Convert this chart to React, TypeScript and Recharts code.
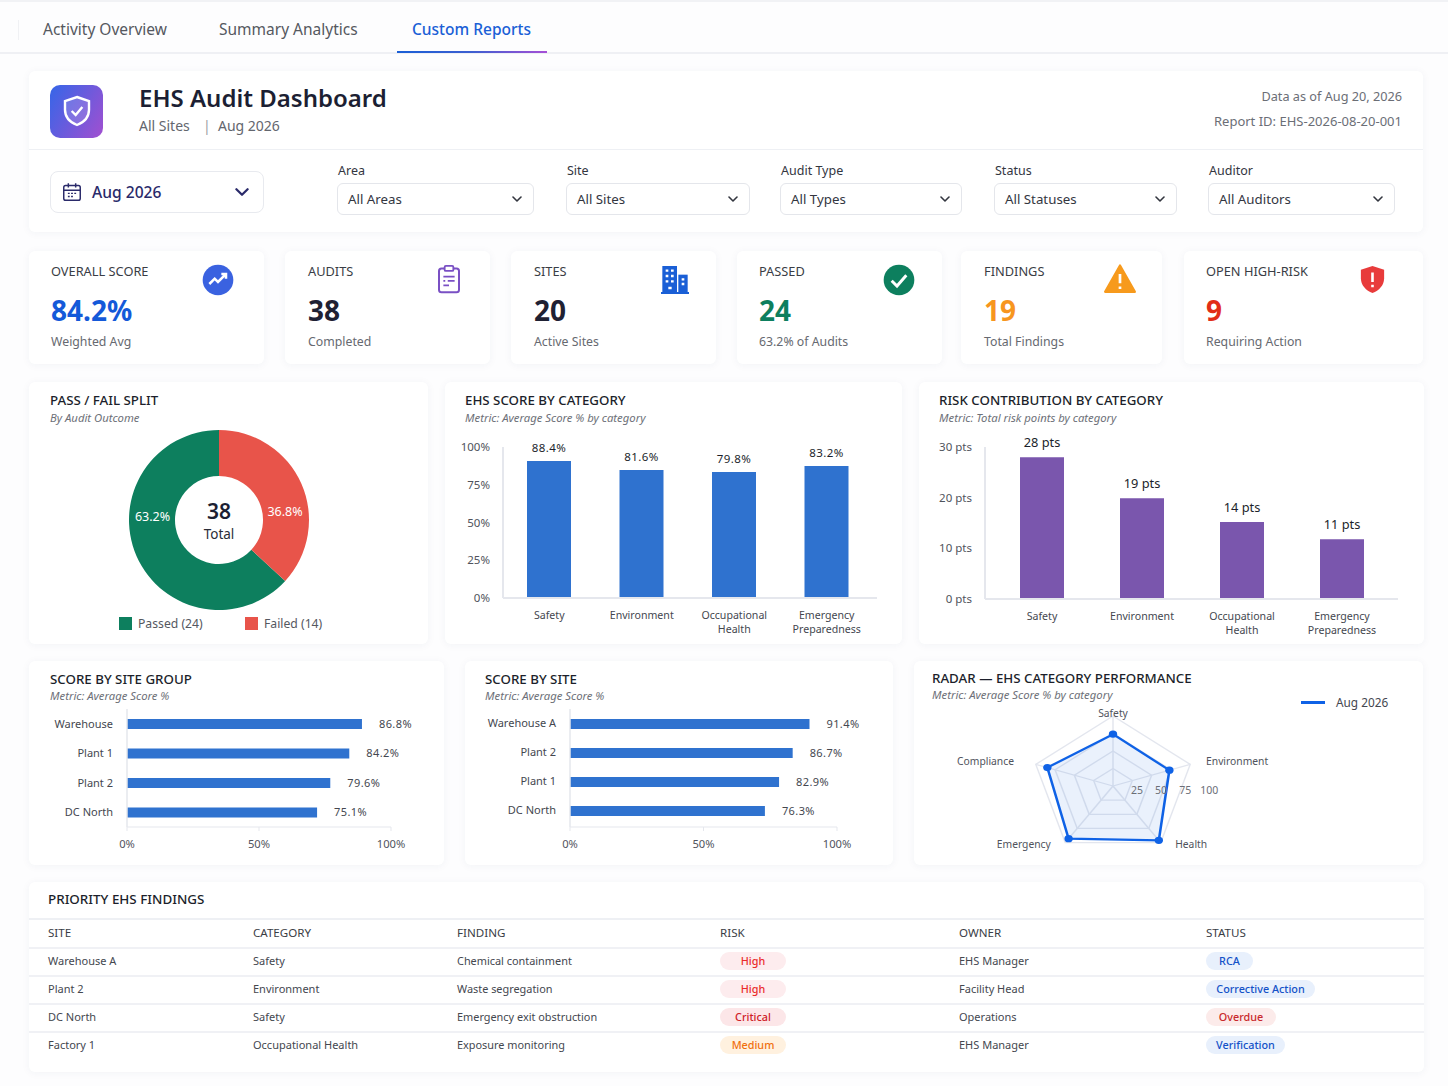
import React from 'react';
import {
  BarChart, Bar, XAxis, YAxis, LabelList, PieChart, Pie, Cell, Legend,
  RadarChart, Radar, PolarGrid, PolarAngleAxis, PolarRadiusAxis,
} from 'recharts';

const FONT = '"Noto Sans", sans-serif';

// The bars in the picture do not sit at their printed values, so lengths are
// read off each axis and the printed labels are kept in their own arrays.
const pieNames = ['Passed (24)', 'Failed (14)'];
const pieValues = [24, 14];
const pieShares = ['63.2%', '36.8%'];
const pieColors = ['#0d7f5e', '#e8544a'];

const categories = ['Safety', 'Environment', 'Occupational Health', 'Emergency Preparedness'];
const scoreBars = [90.7, 84.8, 83.4, 87.4];
const scoreLabels = ['88.4%', '81.6%', '79.8%', '83.2%'];
const riskBars = [28, 19.9, 15.2, 11.8];
const riskLabels = ['28 pts', '19 pts', '14 pts', '11 pts'];

const groupNames = ['Warehouse', 'Plant 1', 'Plant 2', 'DC North'];
const groupBars = [89, 84.2, 77, 72];
const groupLabels = ['86.8%', '84.2%', '79.6%', '75.1%'];

const siteNames = ['Warehouse A', 'Plant 2', 'Plant 1', 'DC North'];
const siteBars = [89.7, 83.4, 78.3, 73];
const siteLabels = ['91.4%', '86.7%', '82.9%', '76.3%'];

const radarAxes = ['Safety', 'Environment', 'Health', 'Emergency', 'Compliance'];
const radarValues = [74, 73, 96, 93, 85];

const tabs = ['Activity Overview', 'Summary Analytics', 'Custom Reports'];
const filterLabels = ['Area', 'Site', 'Audit Type', 'Status', 'Auditor'];
const filterValues = ['All Areas', 'All Sites', 'All Types', 'All Statuses', 'All Auditors'];

const kpiLabels = ['OVERALL SCORE', 'AUDITS', 'SITES', 'PASSED', 'FINDINGS', 'OPEN HIGH-RISK'];
const kpiValues = ['84.2%', '38', '20', '24', '19', '9'];
const kpiSubs = ['Weighted Avg', 'Completed', 'Active Sites', '63.2% of Audits', 'Total Findings', 'Requiring Action'];
const kpiColors = ['#1459d9', '#1f2133', '#1f2133', '#0d7f5e', '#f7961e', '#e22d17'];

const tableHeads = ['SITE', 'CATEGORY', 'FINDING', 'RISK', 'OWNER', 'STATUS'];
const findingSites = ['Warehouse A', 'Plant 2', 'DC North', 'Factory 1'];
const findingCats = ['Safety', 'Environment', 'Safety', 'Occupational Health'];
const findingText = ['Chemical containment', 'Waste segregation', 'Emergency exit obstruction', 'Exposure monitoring'];
const findingRisk = ['High', 'High', 'Critical', 'Medium'];
const findingOwners = ['EHS Manager', 'Facility Head', 'Operations', 'EHS Manager'];
const findingStatus = ['RCA', 'Corrective Action', 'Overdue', 'Verification'];

const pillColors: Record<string, [string, string]> = {
  High: ['#fdecee', '#ea2b2b'],
  Critical: ['#fce6e8', '#cf2027'],
  Medium: ['#fff1df', '#f0700f'],
  RCA: ['#e8f0fc', '#1452c8'],
  'Corrective Action': ['#e8f0fc', '#1452c8'],
  Overdue: ['#fcebea', '#c9282b'],
  Verification: ['#e8f0fc', '#1452c8'],
};
const statusWidths = [47, 109, 70, 79];

// layout of the page
const filterBoxes = [[337, 197], [566, 184], [780, 182], [994, 183], [1208, 187]];
const kpiBoxes = [[29, 235, 51], [285, 205, 308], [511, 205, 534], [737, 205, 759], [961, 201, 984], [1184, 239, 1206]];
const columnX = [48, 253, 457, 720, 959, 1206];
const rowY = [961, 989, 1017, 1045];
const rowLines = [947, 975, 1003, 1031];

const AXIS_GREY = '#e5e7ed';
const TICK_GREY = '#50535c';
const RADAR_SCALE = 1.16;
const RADAR_W = 320;
const RADAR_H = 200;

const scoreData = categories.map((name, i) => ({ name, bar: scoreBars[i], label: scoreLabels[i] }));
const riskData = categories.map((name, i) => ({ name, bar: riskBars[i], label: riskLabels[i] }));
const groupData = groupNames.map((name, i) => ({ name, bar: groupBars[i], label: groupLabels[i] }));
const siteData = siteNames.map((name, i) => ({ name, bar: siteBars[i], label: siteLabels[i] }));
const pieData = pieNames.map((name, i) => ({ name, value: pieValues[i] }));
const radarData = radarAxes.map((axis, i) => ({ axis, value: radarValues[i] }));

function T({ x, y, size = 13, color = '#333', weight = 400, italic = false, right, children }: any) {
  return (
    <div style={{
      position: 'absolute', left: right === undefined ? x : undefined, right: right === undefined ? undefined : 1448 - right,
      top: y, transform: 'translateY(-50%)', whiteSpace: 'nowrap', fontSize: size, color, fontWeight: weight,
      fontStyle: italic ? 'italic' : 'normal', lineHeight: 1.2,
    }}>
      {children}
    </div>
  );
}

function Card({ x, y, w, h, children }: any) {
  return (
    <div style={{
      position: 'absolute', left: x, top: y, width: w, height: h, background: '#fff', borderRadius: 6,
      boxShadow: '0 1px 8px rgba(40,50,90,0.05)',
    }}>
      {children}
    </div>
  );
}

function Chevron({ x, y, size = 10, color = '#33363f' }: any) {
  return (
    <svg style={{ position: 'absolute', left: x, top: y - size / 2 }} width={size} height={size} viewBox="0 0 10 10">
      <path d="M1 3 L5 7 L9 3" fill="none" stroke={color} strokeWidth={1.6} strokeLinecap="round" strokeLinejoin="round" />
    </svg>
  );
}

function Icon({ x, y, size, children }: any) {
  return (
    <svg style={{ position: 'absolute', left: x - size / 2, top: y - size / 2 }} width={size} height={size} viewBox="0 0 24 24">
      {children}
    </svg>
  );
}

const SHIELD = 'M12 1.5 L21 4.5 V11 C21 16.5 17 20.5 12 22.5 C7 20.5 3 16.5 3 11 V4.5 Z';

function KpiIcons() {
  return (
    <>
      <Icon x={218} y={280} size={32}>
        <circle cx={12} cy={12} r={11.5} fill="#3a62e0" />
        <path d="M5.5 15 L9.5 11 L12 13.5 L17.5 8 M14.5 7.5 H18 V11" fill="none" stroke="#fff" strokeWidth={1.9} />
      </Icon>
      <Icon x={449} y={279} size={30}>
        <rect x={4} y={3.5} width={16} height={19} rx={2} fill="none" stroke="#7a50c4" strokeWidth={1.6} />
        <rect x={8.5} y={1.5} width={7} height={4} rx={1} fill="#fff" stroke="#7a50c4" strokeWidth={1.5} />
        <path d="M7.5 10 H16.5 M7.5 13.5 H9 M11 13.5 H16.5 M7.5 17 H12" stroke="#7a50c4" strokeWidth={1.4} />
      </Icon>
      <Icon x={675} y={280} size={32}>
        <rect x={2.5} y={1.5} width={11} height={20} fill="#1a5fd6" />
        <rect x={14.5} y={8} width={7} height={13.5} fill="#1a5fd6" />
        <rect x={1.5} y={21} width={21} height={1.5} fill="#1a5fd6" />
        <path d="M5 5 H7 M9 5 H11 M5 9 H7 M9 9 H11 M5 13 H7 M9 13 H11 M17 11.5 H19 M17 15 H19 M7 18 H9.5" stroke="#fff" strokeWidth={1.7} />
      </Icon>
      <Icon x={899} y={280} size={32}>
        <circle cx={12} cy={12} r={11.5} fill="#0d7f5e" />
        <path d="M6.5 12.5 L10.5 16.5 L17.5 8.5" fill="none" stroke="#fff" strokeWidth={2.2} />
      </Icon>
      <Icon x={1120} y={279} size={34}>
        <path d="M12 2.5 L22.5 21 H1.5 Z" fill="#f79a1c" stroke="#f79a1c" strokeWidth={1.6} strokeLinejoin="round" />
        <path d="M12 8.5 V15 M12 17.3 V19" stroke="#fff" strokeWidth={1.9} />
      </Icon>
      <Icon x={1372} y={279} size={31}>
        <path d={SHIELD} fill="#e83b3b" />
        <path d="M12 6.5 V14 M12 16 V18" stroke="#fff" strokeWidth={2} />
      </Icon>
    </>
  );
}

const WrapTick = ({ x, y, payload }: any) => {
  const lines = String(payload.value).split(' ');
  return (
    <text x={x} y={y} textAnchor="middle" fontSize={10.6} fill="#44474f">
      {lines.map((line, i) => (
        <tspan key={line} x={x} dy={i === 0 ? 13 : 14}>{line}</tspan>
      ))}
    </text>
  );
};

// text stays unstretched inside the widened radar
const RadarAxisTick = ({ x, y, payload }: any) => {
  const side = x - RADAR_W / 2;
  const top = Math.abs(side) < 1;
  const upper = y < RADAR_H / 2;
  const anchor = top ? 'middle' : side > 0 ? 'start' : 'end';
  let dx = 0;
  if (!top) dx = side > 0 ? (upper ? 7 : 9) : upper ? -13 : -9;
  const dy = top ? 5 : upper ? -1 : -5;
  return (
    <g transform={`translate(${x} ${y}) scale(${1 / RADAR_SCALE} 1)`}>
      <text x={dx} y={dy} textAnchor={anchor} dominantBaseline="central" fontSize={10.3} fill="#50535c">
        {payload.value}
      </text>
    </g>
  );
};

const RadarValueTick = ({ x, y, payload }: any) => {
  if (!payload.value) return null;
  return (
    <g transform={`translate(${x} ${y}) scale(${1 / RADAR_SCALE} 1)`}>
      <text x={payload.value * 0.15} y={4} textAnchor="middle" dominantBaseline="central" fontSize={10.5} fill="#6b6e76">
        {payload.value}
      </text>
    </g>
  );
};

const RadarDot = ({ cx, cy, index }: any) => (
  <circle key={index} cx={cx} cy={cy} r={3.6} fill="#0f62e6" />
);

const renderShare = ({ cx, cy, index }: any) => (
  <text
    x={cx + (index === 0 ? -66.5 : 66)}
    y={cy + (index === 0 ? -4 : -9)}
    textAnchor="middle"
    dominantBaseline="central"
    fontSize={12.5}
    fill="#fff"
  >
    {pieShares[index]}
  </text>
);

function PieLegend({ payload }: any) {
  return (
    <div style={{ display: 'flex', fontSize: 12.2, color: '#55585f' }}>
      {(payload || []).map((entry: any) => (
        <div key={entry.value} style={{ display: 'flex', alignItems: 'center', width: 126 }}>
          <span style={{ width: 13, height: 13, background: entry.color, marginRight: 6 }} />
          {entry.value}
        </div>
      ))}
    </div>
  );
}

function ColumnChart({ data, w, h, margin, yWidth, domain, ticks, fmt, color, padding, labelSize, labelSpacing, labelOffset }: any) {
  return (
    <BarChart width={w} height={h} data={data} margin={margin} style={{ position: 'absolute', left: 0, top: 0 }}>
      <XAxis
        dataKey="name"
        interval={0}
        tick={<WrapTick />}
        tickLine={false}
        padding={padding}
        axisLine={{ stroke: AXIS_GREY, strokeWidth: 2 }}
      />
      <YAxis
        width={yWidth}
        domain={domain}
        ticks={ticks}
        tickFormatter={fmt}
        tickLine={false}
        tickMargin={7}
        axisLine={{ stroke: AXIS_GREY, strokeWidth: 2 }}
        tick={{ fontSize: 11.5, fill: TICK_GREY }}
      />
      <Bar dataKey="bar" fill={color} barSize={44} isAnimationActive={false}>
        <LabelList dataKey="label" position="top" offset={labelOffset} fontSize={labelSize} fill="#1c1f2b" letterSpacing={labelSpacing} />
      </Bar>
    </BarChart>
  );
}

function RowChart({ data, w, h, margin, yWidth, padding }: any) {
  return (
    <BarChart layout="vertical" width={w} height={h} data={data} margin={margin} style={{ position: 'absolute', left: 0, top: 0 }}>
      <XAxis
        type="number"
        domain={[0, 100]}
        ticks={[0, 50, 100]}
        tickFormatter={(v: number) => `${v}%`}
        tickSize={4}
        tickMargin={9}
        stroke={AXIS_GREY}
        tick={{ fontSize: 11.2, fill: TICK_GREY }}
      />
      <YAxis
        type="category"
        dataKey="name"
        width={yWidth}
        interval={0}
        padding={padding}
        tickLine={false}
        tickMargin={8}
        axisLine={{ stroke: AXIS_GREY, strokeWidth: 1.5 }}
        tick={{ fontSize: 11, fill: '#44474f' }}
      />
      <Bar dataKey="bar" fill="#2f72cf" barSize={10} isAnimationActive={false}>
        <LabelList dataKey="label" position="right" offset={17} fontSize={11} fill="#44474f" letterSpacing={0.4} />
      </Bar>
    </BarChart>
  );
}

function Pill({ x, y, w, text }: any) {
  const [bg, fg] = pillColors[text];
  return (
    <div style={{
      position: 'absolute', left: x, top: y - 9, width: w, height: 18, borderRadius: 9, background: bg, color: fg,
      fontSize: 10.8, fontWeight: 500, lineHeight: '18px', textAlign: 'center',
    }}>
      {text}
    </div>
  );
}

const CardTitle = ({ x, y, gap = 18, title, sub }: any) => (
  <>
    <T x={x} y={y + 0.5} size={13.3} weight={500} color="#1c1f2b">{title}</T>
    <T x={x} y={y + gap} size={11.3} italic color="#6d7078">{sub}</T>
  </>
);

export default function App() {
  return (
    <div style={{
      position: 'absolute', left: 0, top: 0, width: 1448, height: 1086, overflow: 'hidden', background: '#fdfdfe', fontFamily: FONT,
    }}>
      {/* tabs */}
      <div style={{ position: 'absolute', left: 0, top: 0, width: 1448, height: 2, background: '#f1f2f5' }} />
      <div style={{ position: 'absolute', left: 0, top: 52, width: 1448, height: 2, background: '#eff0f4' }} />
      <div style={{ position: 'absolute', left: 18, top: 20, width: 1, height: 20, background: '#f0f1f4' }} />
      <T x={43} y={29} size={15.5} color="#55585f">{tabs[0]}</T>
      <T x={219} y={29} size={15.5} color="#55585f">{tabs[1]}</T>
      <T x={412} y={29} size={15.5} color="#1a5fd6" weight={500}>{tabs[2]}</T>
      <div style={{ position: 'absolute', left: 397, top: 51, width: 150, height: 2, background: 'linear-gradient(90deg,#1a5fd6,#3d5fd0 50%,#a64fd6)' }} />

      {/* header */}
      <Card x={29} y={71} w={1394} h={161} />
      <div style={{ position: 'absolute', left: 29, top: 149, width: 1394, height: 1, background: '#eef0f4' }} />
      <div style={{ position: 'absolute', left: 50, top: 85, width: 53, height: 53, borderRadius: 10, background: 'linear-gradient(120deg,#3566e8,#a24fd0)' }} />
      <Icon x={76.5} y={111} size={32}>
        <path d={SHIELD} fill="rgba(255,255,255,0.15)" stroke="#fff" strokeWidth={1.8} />
        <path d="M8 12 L11 15 L16 9" fill="none" stroke="#fff" strokeWidth={1.8} />
      </Icon>
      <T x={139} y={98} size={24} weight={600} color="#1c1f33">EHS Audit Dashboard</T>
      <T x={139} y={126} size={14} color="#63666e">All Sites</T>
      <T x={203} y={126} size={14} color="#9a9ca3">|</T>
      <T x={218} y={126} size={14} color="#63666e">Aug 2026</T>
      <T right={1402} y={97} size={12.7} color="#6b6e76">Data as of Aug 20, 2026</T>
      <T right={1402} y={122} size={13} color="#6b6e76">Report ID: EHS-2026-08-20-001</T>

      {/* filters */}
      <div style={{ position: 'absolute', left: 50, top: 171, width: 214, height: 42, boxSizing: 'border-box', border: '1px solid #e8eaef', borderRadius: 8, background: '#fff' }} />
      <Icon x={71.5} y={192} size={22}>
        <rect x={3} y={5} width={18} height={16} rx={2} fill="none" stroke="#2a2a6a" strokeWidth={1.6} />
        <path d="M3 10 H21 M8 2.5 V7 M16 2.5 V7 M7.5 13.5 H9.5 M11 13.5 H13 M14.5 13.5 H16.5 M7.5 17 H9.5 M11 17 H13" stroke="#2a2a6a" strokeWidth={1.6} />
      </Icon>
      <T x={92} y={192} size={15.6} color="#2a2a6a" weight={500}>Aug 2026</T>
      <Chevron x={235} y={192} size={14} color="#2a2a6a" />
      {filterLabels.map((label, i) => {
        const [x, w] = filterBoxes[i];
        return (
          <React.Fragment key={label}>
            <T x={x + 1} y={170} size={12.5} color="#33363f">{label}</T>
            <div style={{ position: 'absolute', left: x, top: 183, width: w, height: 32, boxSizing: 'border-box', border: '1px solid #e4e6eb', borderRadius: 6, background: '#fff' }} />
            <T x={x + 11} y={199.5} size={13.3} color="#33363f">{filterValues[i]}</T>
            <Chevron x={x + w - 22} y={199} />
          </React.Fragment>
        );
      })}

      {/* kpi cards */}
      {kpiLabels.map((label, i) => {
        const [x, w, tx] = kpiBoxes[i];
        return (
          <React.Fragment key={label}>
            <Card x={x} y={251} w={w} h={113} />
            <T x={tx} y={271.5} size={12.8} color="#3a3d45">{label}</T>
            <T x={tx} y={311} size={28} weight={700} color={kpiColors[i]}>{kpiValues[i]}</T>
            <T x={tx} y={341.5} size={12.3} color="#666970">{kpiSubs[i]}</T>
          </React.Fragment>
        );
      })}
      <KpiIcons />

      {/* pass / fail */}
      <Card x={29} y={382} w={399} h={262}>
        <PieChart width={399} height={262} margin={{ top: 0, right: 0, bottom: 0, left: 0 }} style={{ position: 'absolute', left: 0, top: 0 }}>
          <Pie
            data={pieData}
            dataKey="value"
            nameKey="name"
            cx={190}
            cy={138}
            outerRadius={90}
            innerRadius={44}
            startAngle={90}
            endAngle={450}
            stroke="none"
            labelLine={false}
            label={renderShare}
            isAnimationActive={false}
          >
            {pieData.map((d, i) => <Cell key={d.name} fill={pieColors[i]} />)}
          </Pie>
          <Legend content={<PieLegend />} itemSorter={null} wrapperStyle={{ left: 90, top: 233, bottom: 'auto', width: 260 }} />
        </PieChart>
      </Card>
      <CardTitle x={50} y={400} title="PASS / FAIL SPLIT" sub="By Audit Outcome" />
      <div style={{ position: 'absolute', left: 179, width: 80, top: 511, transform: 'translateY(-50%)', textAlign: 'center', fontSize: 21, fontWeight: 600, color: '#1c1f33' }}>38</div>
      <div style={{ position: 'absolute', left: 179, width: 80, top: 534, transform: 'translateY(-50%)', textAlign: 'center', fontSize: 13.5, color: '#2a2d38' }}>Total</div>

      {/* score by category */}
      <Card x={445} y={382} w={457} h={262}>
        <ColumnChart
          data={scoreData}
          w={457}
          h={262}
          margin={{ top: 65, right: 25, bottom: 16, left: 8 }}
          yWidth={50}
          domain={[0, 100]}
          ticks={[0, 25, 50, 75, 100]}
          fmt={(v: number) => `${v}%`}
          color="#2f72cf"
          padding={{ left: 0, right: 4 }}
          labelSize={11.5}
          labelSpacing={0.4}
          labelOffset={9}
        />
      </Card>
      <CardTitle x={465} y={400} title="EHS SCORE BY CATEGORY" sub="Metric: Average Score % by category" />

      {/* risk contribution */}
      <Card x={919} y={382} w={505} h={262}>
        <ColumnChart
          data={riskData}
          w={505}
          h={262}
          margin={{ top: 65, right: 26, bottom: 15, left: 6 }}
          yWidth={60}
          domain={[0, 30]}
          ticks={[0, 10, 20, 30]}
          fmt={(v: number) => `${v} pts`}
          color="#7a56ad"
          padding={{ left: 7, right: 6 }}
          labelSize={12.8}
          labelSpacing={0}
          labelOffset={10}
        />
      </Card>
      <CardTitle x={939} y={400} title="RISK CONTRIBUTION BY CATEGORY" sub="Metric: Total risk points by category" />

      {/* score by site group */}
      <Card x={29} y={661} w={415} h={204}>
        <RowChart
          data={groupData}
          w={415}
          h={204}
          margin={{ top: 48, right: 53, bottom: 8, left: 8 }}
          yWidth={90}
        />
      </Card>
      <CardTitle x={50} y={679} gap={17} title="SCORE BY SITE GROUP" sub="Metric: Average Score %" />

      {/* score by site */}
      <Card x={465} y={661} w={428} h={204}>
        <RowChart
          data={siteData}
          w={428}
          h={204}
          margin={{ top: 48, right: 56, bottom: 8, left: 5 }}
          yWidth={100}
          padding={{ top: 0, bottom: 2 }}
        />
      </Card>
      <CardTitle x={485} y={679} gap={17} title="SCORE BY SITE" sub="Metric: Average Score %" />

      {/* radar */}
      <Card x={914} y={661} w={509} h={204} />
      <div style={{ position: 'absolute', left: 1113 - RADAR_W / 2, top: 786 - RADAR_H / 2, width: RADAR_W, height: RADAR_H, transform: `scaleX(${RADAR_SCALE})` }}>
        <RadarChart width={RADAR_W} height={RADAR_H} data={radarData} outerRadius={70} margin={{ top: 0, right: 0, bottom: 0, left: 0 }} style={{ overflow: 'visible' }}>
          <PolarGrid stroke="#e3e6ee" strokeWidth={1.3} />
          <PolarAngleAxis dataKey="axis" tick={<RadarAxisTick />} tickLine={false} />
          <PolarRadiusAxis angle={0} domain={[0, 100]} tickCount={5} axisLine={false} tick={<RadarValueTick />} />
          <Radar
            dataKey="value"
            stroke="#0f62e6"
            strokeWidth={2.2}
            fill="#2f72e6"
            fillOpacity={0.1}
            dot={<RadarDot />}
            isAnimationActive={false}
          />
        </RadarChart>
      </div>
      <CardTitle x={932} y={678} gap={17} title="RADAR — EHS CATEGORY PERFORMANCE" sub="Metric: Average Score % by category" />
      <div style={{ position: 'absolute', left: 1301, top: 701, width: 24, height: 3, background: '#0f62e6' }} />
      <T x={1336} y={702} size={11.8} color="#44474f">Aug 2026</T>

      {/* findings table */}
      <Card x={29} y={882} w={1395} h={190} />
      <T x={48} y={899} size={13.4} weight={500} color="#1c1f2b">PRIORITY EHS FINDINGS</T>
      <div style={{ position: 'absolute', left: 29, top: 918, width: 1395, height: 2, background: '#eef0f4' }} />
      {rowLines.map((y) => (
        <div key={y} style={{ position: 'absolute', left: 29, top: y, width: 1395, height: 1.5, background: '#f0f1f5' }} />
      ))}
      {tableHeads.map((head, i) => (
        <T key={head} x={columnX[i]} y={933} size={11.6} color="#3a3d45">{head}</T>
      ))}
      {rowY.map((y, i) => (
        <React.Fragment key={y}>
          <T x={columnX[0]} y={y} size={11} color="#44474f">{findingSites[i]}</T>
          <T x={columnX[1]} y={y} size={11} color="#44474f">{findingCats[i]}</T>
          <T x={columnX[2]} y={y} size={10.9} color="#44474f">{findingText[i]}</T>
          <Pill x={columnX[3]} y={y} w={66} text={findingRisk[i]} />
          <T x={columnX[4]} y={y} size={11} color="#44474f">{findingOwners[i]}</T>
          <Pill x={columnX[5]} y={y} w={statusWidths[i]} text={findingStatus[i]} />
        </React.Fragment>
      ))}
    </div>
  );
}
